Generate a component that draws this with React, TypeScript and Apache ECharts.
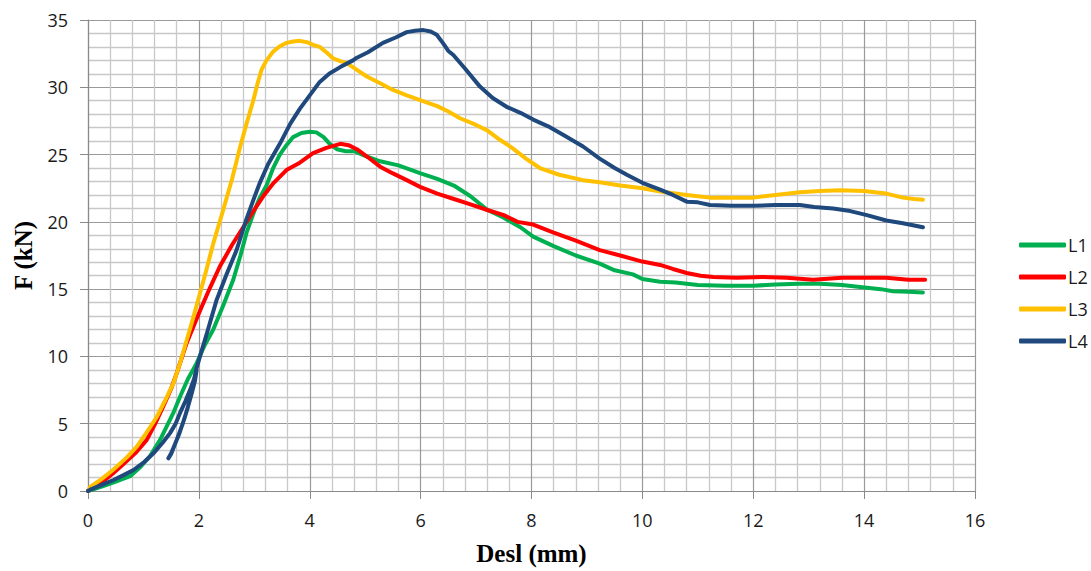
import React, { useEffect, useRef } from "react";
import * as echarts from "echarts";

const seriesNames = ["L1", "L2", "L3", "L4"];
const seriesColors = ["#00B050", "#FF0000", "#FFC000", "#1F497D"];

const l1: number[][] = [
  [0, 0], [0.3, 0.4], [0.5, 0.7], [0.76, 1.1], [0.95, 1.8], [1.12, 2.6], [1.3, 3.8], [1.42, 4.8],
  [1.55, 5.9], [1.66, 7.0], [1.8, 8.3], [1.96, 9.5], [2.1, 10.8], [2.26, 12.0], [2.45, 13.9],
  [2.62, 15.7], [2.75, 17.5], [2.86, 19.2], [3.0, 20.8], [3.1, 21.8], [3.22, 22.7], [3.34, 24.0],
  [3.46, 25.0], [3.58, 25.7], [3.7, 26.3], [3.85, 26.6], [4.0, 26.7], [4.12, 26.65], [4.25, 26.3],
  [4.36, 25.8], [4.49, 25.4], [4.65, 25.25], [4.8, 25.25], [5.0, 24.9], [5.27, 24.5], [5.6, 24.2],
  [6.0, 23.6], [6.3, 23.2], [6.6, 22.7], [6.9, 21.9], [7.2, 20.9], [7.5, 20.3], [7.8, 19.6],
  [8.03, 18.9], [8.4, 18.2], [8.8, 17.5], [9.23, 16.9], [9.5, 16.4], [9.83, 16.1], [10.0, 15.75],
  [10.32, 15.55], [10.6, 15.5], [11.0, 15.3], [11.5, 15.25], [12.0, 15.25], [12.4, 15.35],
  [12.84, 15.4], [13.2, 15.4], [13.6, 15.3], [14.05, 15.1], [14.3, 15.0], [14.52, 14.85],
  [14.8, 14.8], [15.06, 14.75],
];

const l2: number[][] = [
  [0, 0], [0.22, 0.55], [0.45, 1.3], [0.64, 2.0], [0.85, 2.8], [1.06, 3.8], [1.2, 4.9], [1.36, 6.3],
  [1.5, 7.6], [1.6, 8.75], [1.78, 11.0], [2.02, 13.4], [2.2, 15.1], [2.38, 16.7], [2.6, 18.3],
  [2.8, 19.6], [3.0, 20.9], [3.16, 21.9], [3.35, 22.9], [3.58, 23.85], [3.82, 24.4], [4.06, 25.1],
  [4.3, 25.5], [4.55, 25.8], [4.7, 25.7], [4.85, 25.4], [5.05, 24.8], [5.27, 24.1], [5.5, 23.6],
  [5.75, 23.1], [5.99, 22.6], [6.3, 22.1], [6.6, 21.7], [6.9, 21.3], [7.19, 20.9], [7.5, 20.5],
  [7.75, 20.0], [8.03, 19.8], [8.4, 19.2], [8.8, 18.6], [9.23, 17.9], [9.6, 17.5], [10.0, 17.05],
  [10.32, 16.8], [10.55, 16.5], [10.8, 16.2], [11.05, 16.0], [11.28, 15.9], [11.7, 15.85],
  [12.17, 15.9], [12.6, 15.85], [13.08, 15.7], [13.6, 15.85], [14.0, 15.85], [14.4, 15.85],
  [14.8, 15.7], [15.1, 15.7],
];

const l3: number[][] = [
  [0, 0], [0.04, 0.3], [0.25, 0.9], [0.46, 1.6], [0.7, 2.5], [0.88, 3.3], [1.05, 4.3], [1.24, 5.5],
  [1.4, 6.8], [1.54, 8.0], [1.66, 9.5], [1.78, 11.2], [1.9, 12.9], [2.02, 14.7], [2.14, 16.5],
  [2.26, 18.4], [2.44, 20.9], [2.6, 23.2], [2.74, 25.5], [2.86, 27.3], [2.98, 29.0], [3.06, 30.3],
  [3.13, 31.3], [3.22, 32.0], [3.34, 32.65], [3.46, 33.05], [3.58, 33.3], [3.7, 33.4], [3.82, 33.45],
  [3.95, 33.35], [4.06, 33.15], [4.18, 33.0], [4.3, 32.6], [4.42, 32.15], [4.55, 31.95], [4.67, 31.8],
  [4.85, 31.3], [5.03, 30.8], [5.27, 30.3], [5.5, 29.8], [5.75, 29.4], [5.99, 29.05], [6.3, 28.6],
  [6.5, 28.2], [6.71, 27.7], [7.0, 27.2], [7.2, 26.8], [7.43, 26.1], [7.65, 25.5], [7.9, 24.7],
  [8.15, 24.0], [8.5, 23.5], [8.93, 23.1], [9.23, 22.95], [9.6, 22.7], [10.0, 22.5], [10.32, 22.25],
  [10.8, 22.0], [11.22, 21.8], [11.6, 21.8], [12.0, 21.8], [12.4, 22.0], [12.84, 22.2], [13.2, 22.3],
  [13.56, 22.35], [14.0, 22.3], [14.4, 22.1], [14.7, 21.8], [14.9, 21.7], [15.06, 21.65],
];

const l4: number[][] = [
  [0, 0], [0.04, 0.1], [0.25, 0.45], [0.46, 0.82], [0.65, 1.2], [0.82, 1.56], [1.0, 2.1], [1.18, 2.8],
  [1.35, 3.6], [1.48, 4.3], [1.58, 5.0], [1.66, 5.8], [1.76, 6.7], [1.84, 7.5], [1.91, 8.3], [1.96, 9.0],
  [1.93, 8.2], [1.88, 7.4], [1.82, 6.5], [1.74, 5.4], [1.65, 4.3], [1.57, 3.5], [1.5, 2.8], [1.45, 2.43],
  [1.5, 2.75], [1.6, 3.8], [1.7, 4.9], [1.8, 6.2], [1.88, 7.6], [1.95, 9.0], [2.02, 10.0], [2.15, 11.8],
  [2.32, 14.2], [2.5, 16.1], [2.68, 17.9], [2.85, 20.1], [2.98, 21.6], [3.1, 22.9], [3.25, 24.3],
  [3.46, 25.8], [3.65, 27.3], [3.82, 28.4], [4.0, 29.4], [4.18, 30.4], [4.35, 31.0], [4.55, 31.5],
  [4.78, 32.0], [4.85, 32.2], [5.05, 32.6], [5.32, 33.3], [5.55, 33.7], [5.75, 34.1], [5.9, 34.2],
  [6.05, 34.25], [6.18, 34.15], [6.29, 33.9], [6.4, 33.3], [6.5, 32.7], [6.59, 32.4], [6.8, 31.4],
  [7.07, 30.05], [7.3, 29.2], [7.55, 28.55], [7.8, 28.1], [8.03, 27.6], [8.3, 27.1], [8.6, 26.4],
  [8.93, 25.6], [9.23, 24.7], [9.5, 24.0], [9.72, 23.5], [10.0, 22.9], [10.32, 22.4], [10.55, 22.0],
  [10.8, 21.5], [11.0, 21.45], [11.22, 21.25], [11.6, 21.2], [12.0, 21.2], [12.4, 21.25], [12.84, 21.25],
  [13.1, 21.1], [13.44, 21.0], [13.75, 20.8], [14.05, 20.5], [14.4, 20.1], [14.7, 19.9], [15.06, 19.6],
];

const seriesData = [l1, l2, l3, l4];

const xAxisMin = 0;
const xAxisMax = 16;
const xAxisStep = 2;
const yAxisMin = 0;
const yAxisMax = 35;
const yAxisStep = 5;

const xTitle = "Desl (mm)";
const yTitle = "F (kN)";

export default function App() {
  const ref = useRef<HTMLDivElement>(null);

  useEffect(() => {
    if (!ref.current) return;
    const chart = echarts.init(ref.current, null, { renderer: "svg" });
    const tickFont = { fontFamily: "Open Sans", fontSize: 18, color: "#1a1a1a" };
    const titleFont = { fontFamily: "Liberation Serif", fontWeight: "bold" as const, fontSize: 25, color: "#000" };
    const majorLine = { show: true, lineStyle: { color: "#9a9a9a", width: 1.2 } };
    const minorLine = { show: true, lineStyle: { color: "#c8c8c8", width: 1.3 } };
    chart.setOption({
      animation: false,
      backgroundColor: "#ffffff",
      grid: { left: 88, top: 20, right: 116, bottom: 80, containLabel: false },
      legend: {
        orient: "vertical",
        left: 1014,
        top: 231,
        itemWidth: 47,
        itemHeight: 5,
        itemGap: 14,
        icon: "roundRect",
        textStyle: { fontFamily: "Open Sans", fontSize: 18, color: "#1a1a1a", lineHeight: 18, padding: [0, 0, 0, -3] },
        data: seriesNames,
      },
      xAxis: {
        type: "value",
        min: xAxisMin,
        max: xAxisMax,
        interval: xAxisStep,
        name: xTitle,
        nameLocation: "middle",
        nameGap: 50,
        nameTextStyle: titleFont,
        axisLine: { show: true, onZero: false, lineStyle: { color: "#8a8a8a", width: 1.2 } },
        axisTick: { show: true, inside: false, length: 8, lineStyle: { color: "#8a8a8a" } },
        axisLabel: { ...tickFont, margin: 20 },
        splitLine: majorLine,
        minorTick: { show: false, splitNumber: 5 },
        minorSplitLine: minorLine,
      },
      yAxis: {
        type: "value",
        min: yAxisMin,
        max: yAxisMax,
        interval: yAxisStep,
        name: yTitle,
        nameLocation: "middle",
        nameGap: 52,
        nameTextStyle: titleFont,
        axisLine: { show: true, onZero: false, lineStyle: { color: "#8a8a8a", width: 1.2 } },
        axisTick: { show: true, inside: false, length: 8, lineStyle: { color: "#8a8a8a" } },
        axisLabel: { ...tickFont, margin: 20 },
        splitLine: majorLine,
        minorTick: { show: false, splitNumber: 5 },
        minorSplitLine: minorLine,
      },
      series: seriesNames.map((name, i) => ({
        name,
        type: "line",
        data: seriesData[i],
        showSymbol: false,
        symbol: "none",
        smooth: false,
        color: seriesColors[i],
        lineStyle: { color: seriesColors[i], width: 4, cap: "round", join: "round" },
      })),
    });
    return () => chart.dispose();
  }, []);

  return (
    <div
      ref={ref}
      style={{ position: "absolute", left: 0, top: 0, width: 1091, height: 571 }}
    />
  );
}
